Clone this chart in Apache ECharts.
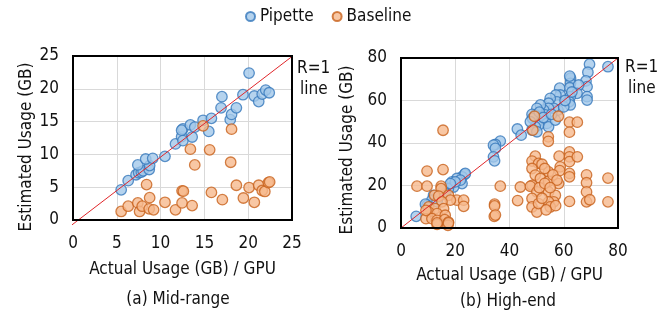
<!DOCTYPE html>
<html>
<head>
<meta charset="utf-8">
<script src="https://cdn.jsdelivr.net/npm/echarts@6/dist/echarts.min.js"></script>
<style>html,body{margin:0;padding:0;background:#fff}#c{width:672px;height:318px}</style>
</head>
<body>
<div id="c"></div>
<script>
// ---- data ----
const seriesNames = ['Pipette', 'Baseline'];
const midTicks = [0, 5, 10, 15, 20, 25];
const highTicks = [0, 20, 40, 60, 80];
const midPipette = [
  [5.5,4.6],[6.3,6.0],[7.2,6.9],[7.5,7.2],[7.8,7.3],[8.0,7.5],[7.4,8.4],[8.7,7.7],[8.75,8.3],
  [8.3,9.3],[9.1,9.4],[10.5,9.7],[11.7,11.6],[12.4,12.7],[12.55,12.1],[13.6,12.65],[12.55,13.9],
  [12.4,13.7],[13.4,14.5],[13.9,14.15],[14.85,15.2],[15.8,15.5],[15.5,13.5],[17.0,18.8],[16.9,17.1],
  [17.95,15.3],[18.1,16.1],[18.65,17.1],[19.4,19.1],[20.1,22.4],[20.7,18.9],[21.2,18.05],[21.6,19.2],
  [22.0,19.8],[22.4,19.4]
];
const midBaseline = [
  [14.85,14.35],[18.1,13.85],[13.4,10.8],[15.6,10.7],[13.9,8.4],[18.0,8.8],[8.4,5.4],[8.75,3.4],
  [12.45,4.45],[12.6,4.4],[15.8,4.2],[17.05,3.1],[18.65,5.3],[19.45,3.35],[20.1,4.95],[20.7,2.7],
  [21.2,5.3],[21.6,4.5],[21.9,4.35],[22.3,5.7],[22.45,5.8],[10.5,2.7],[11.7,1.55],[12.45,2.6],
  [13.6,2.2],[5.5,1.3],[6.3,2.1],[7.4,2.6],[7.6,1.3],[7.9,2.1],[8.7,1.7],[9.2,1.55]
];
const highPipette = [
  [69.5,77.1],[76.3,75.9],[68.9,73.3],[68.2,69.2],[68.6,66.5],[62.5,70.5],[62.5,68.1],[62.2,66.0],
  [65.5,67.3],[64.9,63.4],[68.6,61.8],[68.6,60.2],[62.4,61.8],[62.0,59.4],[62.4,57.9],[58.5,65.8],
  [58.7,62.6],[57.1,62.6],[57.5,59.4],[55.0,61.0],[54.4,58.7],[57.9,55.5],[56.3,56.3],[54.4,56.3],
  [52.6,55.5],[51.4,57.9],[50.1,56.3],[49.5,53.2],[48.3,53.5],[48.5,51.6],[53.2,53.2],[52.0,50.8],
  [53.8,49.2],[54.4,47.6],[50.7,48.4],[49.5,47.6],[48.3,46.1],[50.1,45.3],[56.9,50.8],[47.7,50.0],
  [42.9,46.6],[44.3,43.7],[36.6,40.9],[34.8,39.3],[34.1,39.0],[34.8,37.5],[34.1,33.5],[34.5,31.6],
  [23.5,25.3],[22.5,24.1],[20.6,23.3],[18.8,21.7],[22.5,20.9],[19.4,19.3],[17.5,18.6],[15.7,17.8],
  [16.3,16.2],[13.9,14.6],[12.0,15.4],[11.4,13.1],[13.3,12.3],[9.6,10.7],[9.0,11.2],[5.6,5.5],
  [23.7,25.7],[21.9,22.5],[20.0,21.7],[18.2,20.9],[51.0,54.5],[52.5,52.0],[55.5,53.5],[60.0,57.0],
  [63.0,64.0],[62.2,71.5],[60.5,60.0]
];
const highBaseline = [
  [15.5,46.0],[9.6,26.8],[15.5,27.5],[5.9,19.7],[9.6,19.7],[14.8,19.7],[14.8,18.5],[36.6,19.7],
  [44.0,19.3],[43.0,12.9],[34.5,11.2],[34.5,10.4],[34.4,5.5],[49.2,52.6],[48.6,46.1],[58.0,52.6],
  [54.3,42.9],[54.3,40.8],[62.1,49.8],[65.0,49.8],[62.1,45.1],[62.1,35.8],[62.1,33.5],[62.1,31.2],
  [65.0,33.5],[58.3,33.8],[49.5,33.8],[48.3,31.5],[50.7,30.4],[48.3,28.0],[54.4,26.4],[58.7,28.8],
  [58.5,27.0],[49.5,24.9],[51.4,23.3],[54.4,22.0],[58.1,20.9],[48.3,20.1],[47.7,19.6],[62.1,25.7],
  [62.1,24.1],[68.4,25.0],[68.4,21.3],[68.4,17.0],[68.4,12.3],[69.6,13.3],[76.3,23.5],[76.3,12.3],
  [62.1,12.5],[50.1,17.0],[54.4,17.0],[56.9,15.4],[56.3,12.3],[54.4,12.3],[48.3,13.9],[48.3,9.9],
  [50.1,7.5],[55.0,9.9],[50.7,11.5],[12.4,15.4],[13.9,15.0],[17.5,15.4],[20.6,13.1],[23.1,13.1],
  [23.1,10.2],[18.2,13.1],[15.1,12.3],[10.2,9.9],[12.6,9.1],[15.7,9.1],[10.2,7.5],[13.3,6.8],
  [16.3,6.0],[9.2,4.4],[11.4,4.4],[13.3,3.6],[16.1,3.9],[17.5,2.8],[13.3,1.7],[17.3,1.3],
  [17.5,2.4],[13.3,2.4],[9.2,8.3],[34.8,6.1],[52.0,30.0],[53.0,28.0],[56.0,25.0],[57.5,22.5],
  [51.0,19.0],[53.0,21.0],[55.0,19.0],[52.0,14.0],[57.0,10.5],[53.5,8.5]
];
const midRefLine = [[-3.5,-4.2],[28.4,28.4]];
const highRefLine = [[-9,-9],[92.5,92.5]];

// ---- layout ----
const G1 = {left:73, top:56, width:219, height:164};
const G2 = {left:401, top:58, width:217, height:170};

// ---- chart ----
const FONT = "'DejaVu Sans Condensed','Liberation Sans',sans-serif";
const blue = {color:'#a3c8ea', borderColor:'#3678bb', borderWidth:1.3};
const orange = {color:'#f6b98d', borderColor:'#c8621b', borderWidth:1.3};
const txt = {fontFamily:FONT, fontSize:17, color:'#111'};

function xAxis(gi, max, interval, gap) {
  return {gridIndex:gi, type:'value', min:0, max:max, interval:interval,
    name:'Actual Usage (GB) / GPU', nameLocation:'middle', nameGap:gap,
    nameTextStyle:txt, axisLine:{show:false}, axisTick:{show:false},
    axisLabel:Object.assign({margin:15}, txt),
    splitLine:{show:true, showMinLine:false, showMaxLine:false, lineStyle:{color:'#d9d9d9', width:1}}};
}
function yAxis(gi, max, interval) {
  return {gridIndex:gi, type:'value', min:0, max:max, interval:interval,
    axisLine:{show:false}, axisTick:{show:false},
    axisLabel:Object.assign({margin:14}, txt),
    splitLine:{show:true, showMinLine:false, showMaxLine:false, lineStyle:{color:'#d9d9d9', width:1}}};
}
function scatter(name, gi, data, style) {
  return {name:name, type:'scatter', xAxisIndex:gi, yAxisIndex:gi, data:data,
    symbol:'circle', symbolSize:10.5, itemStyle:style, z:3};
}
function refLine(gi, data) {
  return {type:'line', xAxisIndex:gi, yAxisIndex:gi, data:data, symbol:'none', clip:false,
    silent:true, lineStyle:{color:'#e0262a', width:1}, z:5};
}
function frame(g) {
  const x1 = g.left, y1 = g.top, x2 = g.left + g.width, y2 = g.top + g.height;
  const seg = (a, b, c, d) => ({type:'line', z:6, silent:true,
    shape:{x1:a, y1:b, x2:c, y2:d}, style:{stroke:'#000', lineWidth:2}});
  return [seg(x1-1, y1, x2+1, y1), seg(x2, y1, x2, y2), seg(x1-1, y2, x2+1, y2), seg(x1, y1, x1, y2)];
}

const chart = echarts.init(document.getElementById('c'), null, {renderer:'canvas'});
chart.setOption({
  animation:false,
  textStyle:{fontFamily:FONT},
  legend:{data:seriesNames, top:3, left:240, itemWidth:9, itemHeight:9, itemGap:18,
    icon:'circle', textStyle:{fontFamily:FONT, fontSize:17, color:'#111'}},
  grid:[G1, G2].map(g => Object.assign({show:false}, g)),
  xAxis:[xAxis(0, midTicks[midTicks.length-1], midTicks[1]-midTicks[0], 41),
         xAxis(1, highTicks[highTicks.length-1], highTicks[1]-highTicks[0], 39)],
  yAxis:[yAxis(0, midTicks[midTicks.length-1], midTicks[1]-midTicks[0]),
         yAxis(1, highTicks[highTicks.length-1], highTicks[1]-highTicks[0])],
  series:[
    scatter('Pipette', 0, midPipette, blue),
    scatter('Baseline', 0, midBaseline, orange),
    scatter('Pipette', 1, highPipette, blue),
    scatter('Baseline', 1, highBaseline, orange),
    refLine(0, midRefLine),
    refLine(1, highRefLine)
  ],
  graphic:[].concat(frame(G1), frame(G2), [
    {type:'text', x:27, y:147, rotation:Math.PI/2, style:{text:'Estimated Usage (GB)', font:"17px "+FONT, fill:'#111', align:'center', verticalAlign:'middle'}},
    {type:'text', x:348, y:150, rotation:Math.PI/2, style:{text:'Estimated Usage (GB)', font:"17px "+FONT, fill:'#111', align:'center', verticalAlign:'middle'}},
    {type:'text', left:297, top:60, style:{text:'R=1', font:"17px "+FONT, fill:'#111'}},
    {type:'text', left:300, top:81, style:{text:'line', font:"17px "+FONT, fill:'#111'}},
    {type:'text', left:625, top:59, style:{text:'R=1', font:"17px "+FONT, fill:'#111'}},
    {type:'text', left:628, top:80, style:{text:'line', font:"17px "+FONT, fill:'#111'}},
    {type:'text', x:178, y:300, style:{text:'(a) Mid-range', font:"17px "+FONT, fill:'#111', align:'center', verticalAlign:'middle'}},
    {type:'text', x:508, y:302, style:{text:'(b) High-end', font:"17px "+FONT, fill:'#111', align:'center', verticalAlign:'middle'}}
  ])
});
</script>
</body>
</html>
